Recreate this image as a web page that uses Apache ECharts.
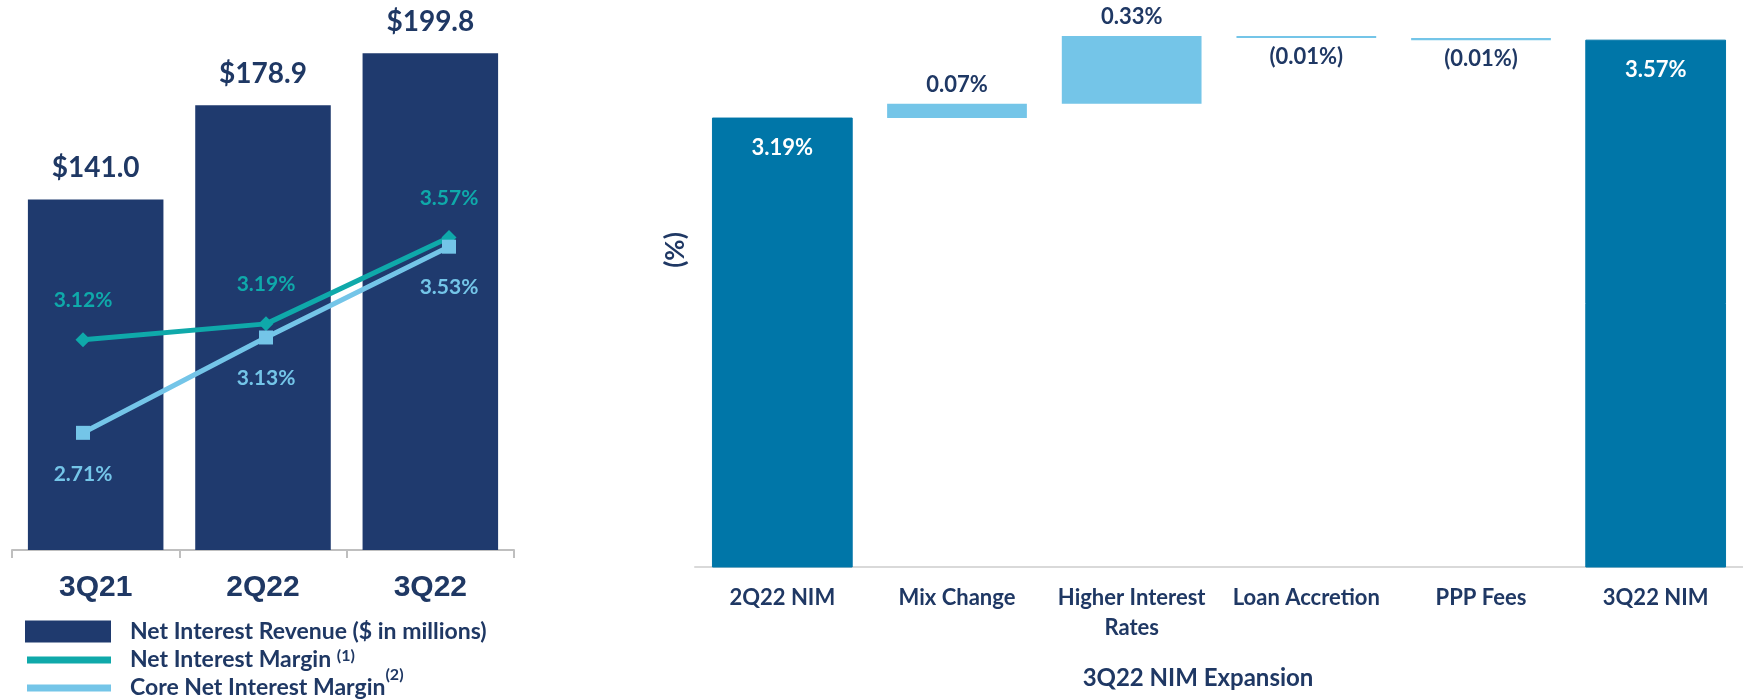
<!DOCTYPE html>
<html>
<head>
<meta charset="utf-8">
<script src="https://cdn.jsdelivr.net/npm/echarts@6/dist/echarts.min.js"></script>
<style>html,body{margin:0;padding:0;background:#fff}#c{width:1743px;height:700px}</style>
</head>
<body>
<div id="c"></div>
<script>
// ---- data ----
const barCategories = ['3Q21', '2Q22', '3Q22'];
const netInterestRevenue = [141.0, 178.9, 199.8];
const netInterestMargin = [3.12, 3.19, 3.57];
const coreNetInterestMargin = [2.71, 3.13, 3.53];

const wfCategories = ['2Q22 NIM', 'Mix Change', 'Higher Interest\nRates', 'Loan Accretion', 'PPP Fees', '3Q22 NIM'];
const wfStart = 3.19;
const wfChanges = [0.07, 0.33, -0.01, -0.01];
const wfEnd = 3.57;

// ---- styles ----
const NAVY = '#1F3A6E';
const TEXT = '#1F3864';
const TEAL = '#0FA9AA';
const LIGHT = '#74C5E8';
const DARK = '#0076A8';
const FONT = 'Lato, "Open Sans", sans-serif';

// build waterfall arrays
const wfBase = [0];
const wfDelta = [{value: wfStart, itemStyle: {color: DARK, borderColor: DARK},
  label: {show: true, position: 'insideTop', distance: 17, color: '#fff', formatter: wfStart.toFixed(2) + '%'}}];
let run = wfStart;
wfChanges.forEach(c => {
  const lo = c >= 0 ? run : run + c;
  wfBase.push(+lo.toFixed(4));
  wfDelta.push({value: Math.abs(c), itemStyle: {color: LIGHT, borderColor: LIGHT, borderWidth: 1.5},
    label: {show: true, position: c >= 0 ? 'top' : 'bottom', distance: 6, color: TEXT,
      formatter: c >= 0 ? c.toFixed(2) + '%' : '(' + Math.abs(c).toFixed(2) + '%)'}});
  run += c;
});
wfBase.push(0);
wfDelta.push({value: wfEnd, itemStyle: {color: DARK, borderColor: DARK},
  label: {show: true, position: 'insideTop', distance: 17, color: '#fff', formatter: wfEnd.toFixed(2) + '%'}});

const chart = echarts.init(document.getElementById('c'));
const legendText = {fontFamily: FONT, fontWeight: 'bold', fontSize: 23, color: TEXT, padding: [0, 0, 0, 14],
  rich: {
    n: {fontFamily: FONT, fontWeight: 'bold', fontSize: 23, color: TEXT, lineHeight: 25},
    s1: {fontFamily: FONT, fontWeight: 'bold', fontSize: 16, color: TEXT, lineHeight: 17, padding: [0, 0, 8, 0]},
    s2: {fontFamily: FONT, fontWeight: 'bold', fontSize: 16, color: TEXT, lineHeight: 17, padding: [0, 0, 26, 0]}
  }};

chart.setOption({
  animation: false,
  backgroundColor: '#fff',
  grid: [
    {left: 12, top: 3, width: 502, height: 547},
    {left: 83, top: 140, width: 366, height: 454},
    {left: 695, top: 34, width: 1054, height: 533}
  ],
  xAxis: [
    {type: 'category', gridIndex: 0, data: barCategories,
      axisLine: {lineStyle: {color: '#BFBFBF', width: 2}},
      axisTick: {show: true, length: 8, lineStyle: {color: '#BFBFBF', width: 2}},
      axisLabel: {margin: 20, fontFamily: '"Liberation Sans", Arial, sans-serif', fontWeight: 'bold', fontSize: 30, lineHeight: 36, color: TEXT}},
    {type: 'category', gridIndex: 1, data: barCategories, boundaryGap: false, show: false},
    {type: 'category', gridIndex: 2, data: wfCategories,
      axisLine: {lineStyle: {color: '#D9D9D9', width: 2}},
      axisTick: {show: false},
      axisLabel: {margin: 16, fontFamily: FONT, fontWeight: 'bold', fontSize: 22, lineHeight: 30, color: TEXT, interval: 0}}
  ],
  yAxis: [
    {type: 'value', gridIndex: 0, min: 0, max: 220, show: false},
    {type: 'value', gridIndex: 1, min: 2, max: 4, show: false},
    {type: 'value', gridIndex: 2, min: 1, max: 3.6, show: false}
  ],
  legend: [
    {left: 25, top: 620, padding: 0, selectedMode: false, icon: 'rect', itemWidth: 86, itemHeight: 22,
      data: ['Net Interest Revenue ($ in millions)'],
      formatter: n => '{n|' + n + '}', textStyle: legendText},
    {left: 27, top: 648, padding: 0, selectedMode: false, icon: 'rect', itemWidth: 84, itemHeight: 7,
      data: ['Net Interest Margin'],
      formatter: n => '{n|' + n + '} {s1|(1)}', textStyle: legendText},
    {left: 27, top: 667, padding: 0, selectedMode: false, icon: 'rect', itemWidth: 84, itemHeight: 7,
      data: ['Core Net Interest Margin'],
      formatter: n => '{n|' + n + '}{s2|(2)}', textStyle: legendText}
  ],
  graphic: [
    {type: 'text', x: 676, y: 250, rotation: Math.PI / 2,
      style: {text: '(%)', fill: TEXT, font: 'bold 26px ' + FONT, align: 'center', verticalAlign: 'middle'}},
    {type: 'text', x: 1198, y: 678,
      style: {text: '3Q22 NIM Expansion', fill: TEXT, font: 'bold 24px ' + FONT, align: 'center', verticalAlign: 'middle'}}
  ],
  series: [
    {name: 'Net Interest Revenue ($ in millions)', type: 'bar', xAxisIndex: 0, yAxisIndex: 0,
      data: netInterestRevenue, barCategoryGap: '19%', itemStyle: {color: NAVY},
      label: {show: true, position: 'top', distance: 14, fontFamily: FONT, fontWeight: 'bold', fontSize: 28, lineHeight: 34, color: TEXT,
        formatter: p => '$' + p.value.toFixed(1)}},
    {name: 'Net Interest Margin', type: 'line', xAxisIndex: 1, yAxisIndex: 1, data: netInterestMargin,
      symbol: 'diamond', symbolSize: 15, lineStyle: {color: TEAL, width: 5}, itemStyle: {color: TEAL}, z: 4,
      label: {show: true, position: 'top', distance: 20, fontFamily: FONT, fontWeight: 'bold', fontSize: 21, lineHeight: 24, color: TEAL,
        formatter: p => p.value.toFixed(2) + '%'}},
    {name: 'Core Net Interest Margin', type: 'line', xAxisIndex: 1, yAxisIndex: 1, data: coreNetInterestMargin,
      symbol: 'rect', symbolSize: 14, lineStyle: {color: LIGHT, width: 5}, itemStyle: {color: LIGHT}, z: 5,
      label: {show: true, position: 'bottom', distance: 22, fontFamily: FONT, fontWeight: 'bold', fontSize: 21, lineHeight: 24, color: LIGHT,
        formatter: p => p.value.toFixed(2) + '%'}},
    {name: 'base', type: 'bar', stack: 'wf', xAxisIndex: 2, yAxisIndex: 2, data: wfBase,
      itemStyle: {color: 'transparent'}, barCategoryGap: '20%', silent: true},
    {name: 'delta', type: 'bar', stack: 'wf', xAxisIndex: 2, yAxisIndex: 2, data: wfDelta,
      barCategoryGap: '20%',
      label: {fontFamily: FONT, fontWeight: 'bold', fontSize: 22, lineHeight: 26}}
  ]
});
</script>
</body>
</html>
